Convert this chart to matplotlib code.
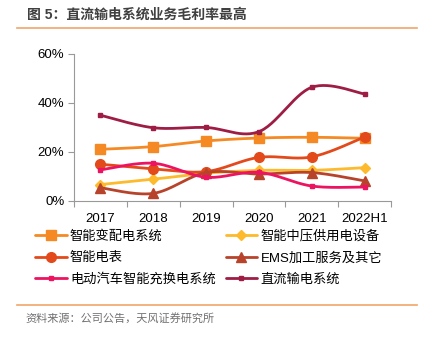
import numpy as np
import matplotlib
matplotlib.use('Agg')
import matplotlib.pyplot as plt
from matplotlib.lines import Line2D

plt.rcParams['font.family'] = ['Liberation Sans', 'Noto Sans CJK SC', 'DejaVu Sans']

years = ['2017', '2018', '2019', '2020', '2021', '2022H1']
distribution = [21.1, 22.2, 24.5, 25.7, 26.0, 25.6]
mv_equipment = [6.7, 8.9, 11.3, 12.5, 12.5, 13.6]
smart_meter = [15.0, 13.1, 12.0, 17.8, 18.0, 26.1]
ems = [5.4, 3.1, 11.6, 11.0, 11.6, 8.2]
ev_charging = [12.7, 15.4, 9.7, 11.7, 6.1, 5.7]
dc_transmission = [35.0, 29.9, 30.0, 28.3, 46.4, 43.7]

series = [
    ('智能变配电系统', distribution, '#F58A24', 's', 6.5),
    ('智能中压供用电设备', mv_equipment, '#FDBA2C', 'D', 5),
    ('智能电表', smart_meter, '#E34A1B', 'o', 7),
    ('EMS加工服务及其它', ems, '#B8432B', '^', 7),
    ('电动汽车智能充换电系统', ev_charging, '#EC1460', 's', 2.5),
    ('直流输电系统', dc_transmission, '#9E1D45', 's', 2.5),
]

N = 30  # points per segment for the smoothed curve


def smooth(y):
    # bezier smoothing through every point, like office chart "smoothed line"
    x = np.arange(len(y), dtype=float)
    p = np.column_stack([x, np.asarray(y, dtype=float)])
    pp = np.vstack([p[0], p, p[-1]])
    t = np.linspace(0, 1, N, endpoint=False)[:, None]
    out = []
    for i in range(len(p) - 1):
        p0, p3 = pp[i + 1], pp[i + 2]
        p1 = p0 + (pp[i + 2] - pp[i]) / 6
        p2 = p3 - (pp[i + 3] - pp[i + 1]) / 6
        out.append((1 - t) ** 3 * p0 + 3 * (1 - t) ** 2 * t * p1 + 3 * (1 - t) * t ** 2 * p2 + t ** 3 * p3)
    out.append(p[-1:])
    c = np.vstack(out)
    return c[:, 0], c[:, 1]


fig = plt.figure(figsize=(4.31, 3.37), dpi=100)
ax = fig.add_axes([0.1717, 0.4036, 0.7355, 0.4362])

handles = []
for label, vals, color, marker, ms in series:
    sx, sy = smooth(vals)
    h, = ax.plot(sx, sy, color=color, lw=2, marker=marker, ms=ms, markevery=N,
                 label=label, solid_capstyle='round')
    handles.append(h)

ax.set_xlim(-0.5, len(years) - 0.5)
ax.set_ylim(0, 60)
ax.set_yticks([0, 20, 40, 60])
ax.set_yticklabels(['0%', '20%', '40%', '60%'])
ax.set_xticks(np.arange(len(years)))
ax.set_xticklabels(years)
ax.set_xticks(np.arange(len(years) + 1) - 0.5, minor=True)
ax.tick_params(axis='x', which='major', length=0, pad=9, labelsize=9.5)
ax.tick_params(axis='x', which='minor', length=4, color='#999999', width=0.8)
ax.tick_params(axis='y', length=4, color='#999999', width=0.8, labelsize=9.5, pad=3)
for s in ['top', 'right']:
    ax.spines[s].set_visible(False)
for s in ['left', 'bottom']:
    ax.spines[s].set_color('#999999')
    ax.spines[s].set_linewidth(0.8)

# legend is filled row by row in the reference
order = [0, 2, 4, 1, 3, 5]
leg_h = [handles[i] for i in order]
fig.legend(leg_h, [h.get_label() for h in leg_h], loc='upper left',
           bbox_to_anchor=(0.081, 0.317), ncol=2, frameon=False,
           fontsize=9.5, handlelength=2.4, handletextpad=0.25, columnspacing=0.75,
           labelspacing=0.68, borderpad=0, borderaxespad=0)

fig.text(0.063, 0.955, '图 5：直流输电系统业务毛利率最高', fontsize=10, fontweight='bold',
         color='#404040', va='center')
fig.add_artist(Line2D([0.04, 0.968], [0.917, 0.917], color='#F2A46A', lw=1.2))
fig.add_artist(Line2D([0.04, 0.968], [0.095, 0.095], color='#F2A46A', lw=1.2))
fig.text(0.06, 0.055, '资料来源：公司公告，天风证券研究所', fontsize=8, color='#707070', va='center')

fig.savefig('out.png', dpi=100)
